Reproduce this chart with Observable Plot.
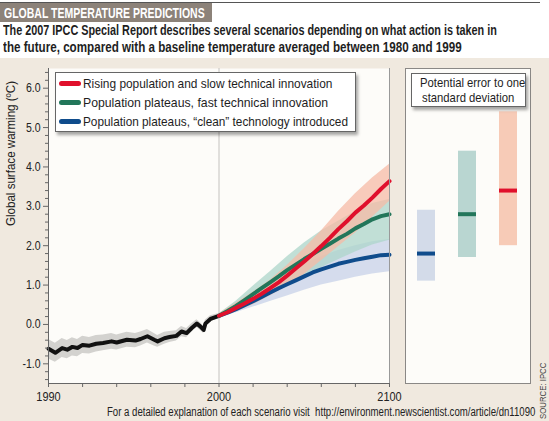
<!DOCTYPE html>
<html><head><meta charset="utf-8">
<script src="https://cdn.jsdelivr.net/npm/d3@7"></script>
<script src="https://cdn.jsdelivr.net/npm/@observablehq/plot@0.6"></script>
<style>
body{margin:0;}
#root{position:relative;width:549px;height:421px;background:#fff;overflow:hidden;font-family:"Liberation Sans",Arial,sans-serif;color:#1e1e1e;}
.fit{display:inline-block;white-space:nowrap;transform-origin:0 50%;}
#topline{position:absolute;left:0;top:2px;width:540px;height:1px;background:#555;}
#title{position:absolute;left:0;top:3px;height:19px;width:212px;background:#8c8279;color:#fff;font-weight:bold;font-size:15.5px;line-height:19px;padding-left:4px;box-sizing:border-box;white-space:nowrap;overflow:hidden;}
#subtitle{position:absolute;left:3px;top:22px;font-weight:bold;font-size:14px;line-height:17px;white-space:nowrap;}
#subtitle div{height:17px;}
#body{position:absolute;left:0;top:58px;width:549px;height:363px;background:#f0e9df;}
#main{position:absolute;left:0;top:58px;}
#side{position:absolute;left:395px;top:58px;}
#legend{position:absolute;left:55px;top:72px;width:301px;height:60px;background:#fff;border:1px solid #666;box-shadow:2px 3px 3px rgba(0,0,0,0.35);box-sizing:border-box;font-size:13px;}
.li{position:absolute;left:3px;height:19px;line-height:19px;white-space:nowrap;}
.sw{display:inline-block;width:22px;height:5px;border-radius:3px;vertical-align:middle;margin-right:2px;position:relative;top:-1px;}
#note{position:absolute;left:411px;top:73px;width:115px;height:34px;background:#fff;border:1px solid #666;box-shadow:2px 3px 3px rgba(0,0,0,0.35);box-sizing:border-box;font-size:13px;line-height:15px;text-align:center;padding-top:1px;}
#note .fit{transform-origin:50% 50%;}
#footer{position:absolute;left:107px;top:405px;font-size:12px;white-space:nowrap;color:#222;line-height:14px;}
#source{position:absolute;left:538px;top:419px;font-size:8.5px;line-height:10px;transform:rotate(-90deg);transform-origin:0 0;white-space:nowrap;color:#444;}
</style></head><body>
<div id="root">
<div id="topline"></div>
<div id="title"><span class="fit" data-w="201">GLOBAL TEMPERATURE PREDICTIONS</span></div>
<div id="subtitle"><div><span class="fit" data-w="494">The 2007 IPCC Special Report describes several scenarios depending on what action is taken in</span></div><div><span class="fit" data-w="459">the future, compared with a baseline temperature averaged between 1980 and 1999</span></div></div>
<div id="body"></div>
<div id="main"></div>
<div id="side"></div>
<div id="legend"></div>
<div id="note"><div><span class="fit" data-w="105">Potential error to one</span></div><div><span class="fit" data-w="92">standard deviation</span></div></div>
<div id="footer"><span class="fit" data-w="428">For a detailed explanation of each scenario visit&nbsp; http://environment.newscientist.com/article/dn11090</span></div>
<div id="source"><span class="fit" data-w="56">SOURCE: IPCC</span></div>
</div>
<script>
// ---- data ----
const histYears = [1900,1904,1908,1911,1914,1917,1920,1924,1928,1932,1937,1940,1946,1951,1954,1958,1962,1964,1968,1971,1975,1978,1981,1984,1987,1989,1991,1992,1995,2000];
const histTemp  = [-0.62,-0.72,-0.60,-0.64,-0.57,-0.60,-0.52,-0.54,-0.49,-0.47,-0.43,-0.46,-0.39,-0.41,-0.37,-0.30,-0.39,-0.43,-0.35,-0.32,-0.29,-0.18,-0.22,-0.09,0.02,-0.05,-0.14,0.02,0.14,0.22];
const histLo    = [-0.88,-0.96,-0.84,-0.87,-0.80,-0.82,-0.74,-0.75,-0.70,-0.67,-0.63,-0.65,-0.58,-0.59,-0.55,-0.47,-0.55,-0.58,-0.50,-0.46,-0.42,-0.31,-0.34,-0.20,-0.08,-0.15,-0.23,-0.07,0.06,0.16];
const histHi    = [-0.38,-0.48,-0.36,-0.41,-0.34,-0.38,-0.30,-0.33,-0.28,-0.27,-0.23,-0.27,-0.20,-0.23,-0.19,-0.13,-0.23,-0.28,-0.20,-0.18,-0.16,-0.05,-0.10,0.02,0.12,0.05,-0.05,0.11,0.22,0.28];

const projYears = [2000,2005,2010,2015,2020,2025,2030,2035,2040,2045,2050,2055,2060,2065,2070,2075,2080,2085,2090,2095,2100];
const redTemp   = [0.22,0.31,0.42,0.53,0.65,0.78,0.92,1.07,1.24,1.42,1.60,1.79,1.99,2.20,2.42,2.62,2.84,3.02,3.22,3.44,3.64];
const greenTemp = [0.22,0.34,0.47,0.62,0.77,0.92,1.07,1.22,1.38,1.52,1.66,1.79,1.92,2.05,2.18,2.30,2.44,2.55,2.67,2.75,2.80];
const blueTemp  = [0.22,0.30,0.39,0.49,0.59,0.70,0.81,0.92,1.02,1.12,1.22,1.32,1.40,1.47,1.54,1.59,1.64,1.68,1.72,1.76,1.77];

const bandYears = [2000,2010,2020,2030,2040,2050,2060,2070,2080,2090,2100];
const redLo   = [0.17,0.32,0.50,0.72,0.97,1.27,1.62,1.97,2.32,2.72,3.12];
const redHi   = [0.27,0.54,0.82,1.12,1.50,1.92,2.37,2.87,3.32,3.72,4.07];
const greenLo = [0.17,0.35,0.57,0.80,1.02,1.24,1.44,1.64,1.84,2.02,2.14];
const greenHi = [0.27,0.59,0.97,1.34,1.72,2.07,2.37,2.62,2.87,3.07,3.17];
const blueLo  = [0.17,0.30,0.44,0.58,0.72,0.87,1.00,1.10,1.20,1.28,1.34];
const blueHi  = [0.27,0.48,0.74,1.02,1.28,1.52,1.72,1.88,2.00,2.10,2.16];

const scenarios  = ["Population plateaus, \u201cclean\u201d technology introduced","Population plateaus, fast technical innovation","Rising population and slow technical innovation"];
const legendWidths = [265,245,249];
const errLow  = [1.1,1.7,2.0];
const errHigh = [2.9,4.4,5.4];
const errMid  = [1.8,2.8,3.4];

const lineColors = ["#0f4c8c","#22765a","#e0102c"];
const bandColors = ["#c7d2e8","#acd5ca","#f5bba6"];
const barColors  = ["#d3dbe9","#b9d6d1","#f7cbb7"];

const xDomain = [1900,2100];
const yDomain = [-1.5,6.5];
const xTicks = [1900,1920,1940,1960,1980,2000,2020,2040,2060,2080,2100];
const xTickLabels = {1900:"1990",2000:"2000",2100:"2100"};
const yTicks = [-1,0,1,2,3,4,5,6];
const yMinor = d3.range(-14,65,2).map(d=>d/10).filter(d=>!Number.isInteger(d));
const yLabel = "Global surface warming (\u00baC)";

// ---- tables ----
const hist = histYears.map((y,i)=>({year:y,t:histTemp[i],lo:histLo[i],hi:histHi[i]}));
const proj = [];
[blueTemp,greenTemp,redTemp].forEach((arr,k)=>projYears.forEach((y,i)=>proj.push({year:y,t:arr[i],s:scenarios[k]})));
const bands = [];
[[blueLo,blueHi],[greenLo,greenHi],[redLo,redHi]].forEach(([lo,hi],k)=>bandYears.forEach((y,i)=>bands.push({year:y,lo:lo[i],hi:hi[i],s:scenarios[k]})));
const err = scenarios.map((s,i)=>({s,lo:errLow[i],hi:errHigh[i],mid:errMid[i]}));

const font = '"Liberation Sans",Arial,sans-serif';

const main = Plot.plot({
  width:425, height:363, marginTop:10, marginBottom:38, marginLeft:48, marginRight:36,
  style:{background:"transparent", fontFamily:font, fontSize:"13px", color:"#222"},
  x:{domain:xDomain}, y:{domain:yDomain},
  color:{domain:scenarios, range:lineColors},
  marks:[
    Plot.frame({fill:"#fdfcf9", stroke:null}),
    Plot.ruleX([2000],{stroke:"#c4c2bf"}),
    Plot.areaY(hist,{x:"year",y1:"lo",y2:"hi",fill:"#d3d2cf"}),
    Plot.areaY(bands,{x:"year",y1:"lo",y2:"hi",z:"s",fill:d=>bandColors[scenarios.indexOf(d.s)],fillOpacity:0.75}),
    Plot.line(hist,{x:"year",y:"t",stroke:"#111",strokeWidth:4}),
    Plot.line(proj,{x:"year",y:"t",z:"s",stroke:"s",strokeWidth:4}),
    Plot.ruleX([xDomain[0]],{stroke:"#666"}),
    Plot.ruleX([xDomain[1]],{stroke:"#999"}),
    Plot.ruleY([yDomain[0]],{stroke:"#666"}),
    Plot.axisY({ticks:yMinor,tickSize:3,tickFormat:()=>"",stroke:"#666"}),
    Plot.axisY({ticks:yTicks,tickSize:5,tickPadding:3,tickFormat:d=>d.toFixed(1),stroke:"#666",fontSize:12.5,label:null}),
    Plot.axisX({ticks:xTicks,tickSize:4,tickPadding:4,tickFormat:d=>xTickLabels[d]||"",stroke:"#666",fontSize:13,label:null}),
    Plot.text([yLabel],{frameAnchor:"left",rotate:-90,dx:-38,fontSize:13,fill:"#222"})
  ]
});
document.getElementById("main").appendChild(main);

// condense svg texts (narrow typeface look)
main.querySelectorAll("text").forEach(t=>{
  const L = t.getComputedTextLength();
  if (!L) return;
  const target = t.textContent === yLabel ? 145 : L*0.84;
  t.setAttribute("textLength", target);
  t.setAttribute("lengthAdjust","spacingAndGlyphs");
});

const side = Plot.plot({
  width:140, height:363, marginTop:10, marginBottom:38, marginLeft:10, marginRight:5,
  style:{background:"transparent", fontFamily:font},
  x:{domain:scenarios, axis:null, paddingInner:0.556, paddingOuter:0.278},
  y:{domain:yDomain, axis:null},
  marks:[
    Plot.frame({fill:"#fdfcf9", stroke:"#8a8886"}),
    Plot.barY(err,{x:"s",y1:"lo",y2:"hi",fill:d=>barColors[scenarios.indexOf(d.s)]}),
    Plot.tickY(err,{x:"s",y:"mid",stroke:d=>lineColors[scenarios.indexOf(d.s)],strokeWidth:4})
  ]
});
document.getElementById("side").appendChild(side);

// legend (top to bottom: red, green, blue)
const leg = document.getElementById("legend");
[2,1,0].forEach((k,j)=>{
  const d = document.createElement("div");
  d.className="li"; d.style.top=(1+j*19)+"px";
  d.innerHTML = `<span class="sw" style="background:${lineColors[k]}"></span>`;
  const s = document.createElement("span");
  s.className="fit"; s.dataset.w = legendWidths[k];
  s.textContent = scenarios[k];
  d.appendChild(s);
  leg.appendChild(d);
});

// fit HTML texts to the reference widths (layout width, ignores transforms)
document.querySelectorAll(".fit").forEach(el=>{
  const w = el.offsetWidth;
  const target = +el.dataset.w;
  if (w && target) el.style.transform = `scaleX(${target/w})`;
});
</script>
</body></html>
